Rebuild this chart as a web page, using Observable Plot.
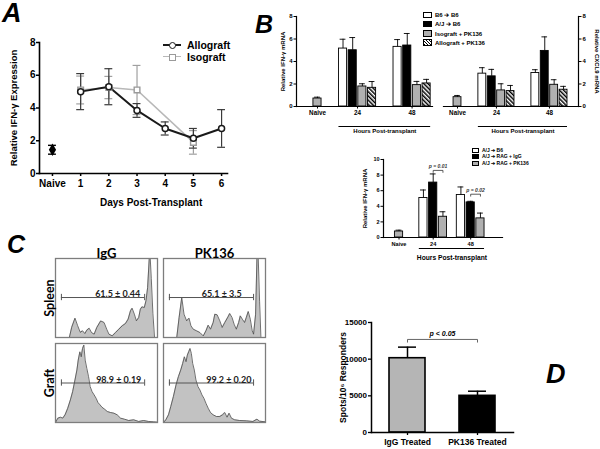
<!DOCTYPE html>
<html>
<head>
<meta charset="utf-8">
<script src="https://cdn.jsdelivr.net/npm/d3@7"></script>
<script src="https://cdn.jsdelivr.net/npm/@observablehq/plot@0.6"></script>
<style>
  html,body{margin:0;padding:0;background:#fff;}
  #root{position:relative;width:600px;height:449px;overflow:hidden;background:#fff;font-family:"Liberation Sans",Arial,sans-serif;color:#000;}
  .letter{position:absolute;font-family:"Liberation Sans",Arial,sans-serif;font-weight:bold;font-style:italic;line-height:1;}
  .lgrow{position:absolute;display:flex;align-items:center;white-space:nowrap;font-weight:bold;line-height:1;}
  .sw{box-sizing:border-box;border:1px solid #000;display:inline-block;flex:none;}
</style>
</head>
<body>
<svg width="0" height="0" style="position:absolute">
  <defs>
    <pattern id="hatch" patternUnits="userSpaceOnUse" width="3" height="3" patternTransform="rotate(-45)">
      <rect width="3" height="3" fill="#fff"></rect>
      <rect width="1.5" height="3" fill="#000"></rect>
    </pattern>
  </defs>
</svg>
<div id="root"></div>
<script>
// ================= DATA =================
// Panel A : relative IFN-gamma expression by day
const aDays = [1, 2, 3, 4, 5, 6];
const aAlloMean = [5.0, 5.3, 3.85, 2.75, 2.15, 2.75];
const aAlloErr  = [1.1, 1.1, 0.42, 0.4, 0.6, 1.15];
const aIsoDays = [1, 2, 3, 5];
const aIsoMean = [5.1, 5.25, 5.1, 1.9];
const aIsoErr  = [0.85, 0.68, 1.5, 0.72];
const aNaiveMean = 1.45;
const aNaiveErr = 0.27;
const aSeries = ["Allograft", "Isograft"];

// Panel B (top) : IFN-gamma and CXCL9 mRNA
const bGroupNames = ["Naive", "24", "48"];
const bSeries = ["B6 ➔ B6", "A/J ➔ B6", "Isograft + PK136", "Allograft + PK136"];
const bIfnNaive = 0.71, bIfnNaiveErr = 0.12;
const bIfn24 = [5.15, 5.0, 1.78, 1.66];
const bIfn24Err = [0.83, 1.13, 0.24, 0.56];
const bIfn48 = [5.3, 5.42, 1.9, 2.05];
const bIfn48Err = [0.65, 1.07, 0.33, 0.36];
const bCxNaive = 0.83, bCxNaiveErr = 0.15;
const bCx24 = [2.92, 2.68, 1.43, 1.37];
const bCx24Err = [0.53, 0.62, 0.59, 0.5];
const bCx48 = [2.98, 4.94, 1.93, 1.49];
const bCx48Err = [0.29, 1.25, 0.45, 0.3];

// Panel B (bottom) : RAG recipients
const rSeries = ["A/J ➔ B6", "A/J ➔ RAG + IgG", "A/J ➔ RAG + PK136"];
const rNaive = 0.77, rNaiveErr = 0.17;
const r24 = [5.06, 7.04, 2.66];
const r24Err = [1.03, 1.11, 0.64];
const r48 = [5.45, 4.5, 2.45];
const r48Err = [1.03, 0.14, 0.68];
const rPvals = [
  {group: "24", from: "A/J ➔ RAG + IgG", to: "A/J ➔ RAG + PK136", y: 8.6, label: "p = 0.01"},
  {group: "48", from: "A/J ➔ RAG + IgG", to: "A/J ➔ RAG + PK136", y: 5.55, label: "p = 0.02"}
];

// Panel C : flow histograms (channel 0-100, normalized count)
const cTreat = ["IgG", "PK136"];
const cTissue = ["Spleen", "Graft"];
const hSpleenIgG = [[0,0],[13.6,0],[15.9,0.13],[19.1,0.245],[21.7,0.15],[24.3,0.065],[26.5,0.085],[28.8,0.05],[30.7,0.093],[33,0.118],[35.3,0.063],[37.9,0.042],[40.5,0.127],[44.3,0.21],[47.6,0.19],[50.2,0.105],[52.4,0.042],[55.7,0.021],[58.9,0.063],[62.1,0.105],[65.4,0.148],[68.6,0.177],[71.2,0.232],[73.5,0.338],[75.1,0.371],[77.3,0.295],[79.3,0.211],[81.6,0.253],[83.2,0.359],[84.8,0.388],[87.1,0.38],[88.7,0.464],[90.3,0.63],[91.9,1.0],[92.9,1.0],[93.9,0.75],[95.5,0.3],[97.1,0],[100,0]];
const hSpleenPK = [[0,0],[13,0],[15.3,0.253],[17.9,0.506],[20.1,0.295],[22.7,0.211],[25,0.245],[26.9,0.148],[29.2,0.105],[32.5,0.084],[35.7,0.063],[39,0.02],[41.6,0.084],[43.8,0.156],[46.1,0.105],[48.7,0.19],[50.3,0.295],[52.6,0.287],[55.2,0.211],[57.5,0.127],[60.1,0.19],[63.3,0.262],[64.9,0.304],[67.2,0.253],[69.2,0.169],[71.4,0.105],[73.7,0.19],[75.3,0.274],[77.3,0.232],[79.5,0.19],[81.2,0.253],[83.1,0.329],[85.1,0.232],[87,0.084],[88.3,0.042],[90.3,0.295],[91.6,1.0],[92.9,1.0],[94.2,0.46],[95.5,0],[100,0]];
const hGraftIgG = [[0,0],[2.3,0.055],[4.9,0.067],[7.1,0.055],[9.4,0.097],[12,0.18],[14.6,0.286],[16.8,0.39],[19.1,0.538],[21,0.664],[22.3,0.79],[23.9,0.895],[25.2,0.832],[26.5,0.937],[27.8,0.98],[29.1,0.79],[30.7,0.685],[32.4,0.58],[34,0.454],[35.9,0.39],[37.9,0.349],[39.8,0.307],[41.7,0.252],[43.7,0.223],[45.6,0.193],[48.2,0.168],[50.8,0.139],[54,0.126],[57.3,0.118],[60.5,0.097],[63.8,0.055],[67.6,0.042],[71.8,0.025],[76.7,0.034],[81.6,0.013],[86.4,0.025],[91.3,0.013],[96.1,0.008],[100,0.004]];
const hGraftPK = [[0,0],[2.3,0.034],[4.9,0.097],[7.1,0.2],[9.7,0.328],[12.3,0.475],[14.6,0.58],[16.9,0.664],[18.8,0.748],[20.5,0.832],[22.1,0.77],[23.4,0.853],[24.7,0.895],[26,0.937],[27.3,0.874],[28.6,0.748],[30.2,0.664],[31.8,0.538],[33.8,0.454],[35.7,0.412],[37.7,0.349],[39.6,0.307],[41.6,0.244],[43.8,0.181],[46.1,0.126],[48.7,0.097],[51.9,0.076],[55.2,0.076],[57.8,0.097],[60.1,0.126],[62.3,0.067],[64.3,0.118],[66.6,0.055],[69.8,0.034],[74.7,0.025],[81.2,0.021],[87.7,0.013],[91.6,0.042],[94.2,0.017],[100,0.008]];
const cGates = [
  {treat: "IgG",   tissue: "Spleen", x1: 5.8, x2: 87.4, h: 0.506, tx: 61, label: "61.5 ± 0.44"},
  {treat: "PK136", tissue: "Spleen", x1: 5.8, x2: 88.3, h: 0.506, tx: 57, label: "65.1 ± 3.5"},
  {treat: "IgG",   tissue: "Graft",  x1: 5.8, x2: 87.4, h: 0.5,   tx: 62, label: "98.9 ± 0.19"},
  {treat: "PK136", tissue: "Graft",  x1: 5.8, x2: 88.3, h: 0.5,   tx: 64, label: "99.2 ± 0.20"}
];

// Panel D : ELISPOT
const dGroups = ["IgG Treated", "PK136 Treated"];
const dMean = [10130, 5000];
const dErr = [1510, 630];
const dP = {y: 12690, yEnd: 12320, label: "p < 0.05"};

// ================= HELPERS =================
const root = document.getElementById("root");
const SANS = "Liberation Sans, Arial, sans-serif";
function put(node, left, top) {
  node.style.position = "absolute";
  node.style.left = left + "px";
  node.style.top = top + "px";
  root.appendChild(node);
}
function letter(t, left, top, size) {
  const d = document.createElement("div");
  d.className = "letter"; d.textContent = t; d.style.fontSize = size + "px";
  put(d, left, top);
}
function swatchLegend(items, left, centers, boxW, boxH, gap, font) {
  items.forEach((it, i) => {
    const row = document.createElement("div");
    row.className = "lgrow";
    row.style.fontSize = font + "px";
    row.style.height = boxH + "px";
    const sw = document.createElement("span");
    sw.className = "sw";
    sw.style.width = boxW + "px"; sw.style.height = boxH + "px";
    sw.style.background = it.css; sw.style.marginRight = gap + "px";
    row.appendChild(sw);
    row.appendChild(document.createTextNode(it.label));
    put(row, left, centers[i] - boxH / 2);
  });
}
function layout(groups, gaps) {
  const bars = [], centers = [];
  let pos = 0;
  groups.forEach((g, gi) => {
    if (gi > 0) pos += gaps[gi - 1];
    const first = pos;
    g.items.forEach((it, i) => { if (i > 0) pos += 1; bars.push({...it, group: g.name, x: pos}); });
    centers.push({group: g.name, x: (first + pos) / 2, first, last: pos});
  });
  return {bars, centers};
}
function makeGroups(series, naive, naiveErr, v24, e24, v48, e48) {
  return [
    {name: bGroupNames[0], items: [{series: "Naive", v: naive, e: naiveErr}]},
    {name: bGroupNames[1], items: series.map((s, i) => ({series: s, v: v24[i], e: e24[i]}))},
    {name: bGroupNames[2], items: series.map((s, i) => ({series: s, v: v48[i], e: e48[i]}))}
  ];
}
const GRAY = "#b0b0b0";
const bFill = {"Naive": GRAY, [bSeries[0]]: "#fff", [bSeries[1]]: "#000", [bSeries[2]]: GRAY, [bSeries[3]]: "url(#hatch)"};
const rFill = {"Naive": GRAY, [rSeries[0]]: "#fff", [rSeries[1]]: "#000", [rSeries[2]]: GRAY};

function groupedChart(o) {
  const {bars, centers} = o.lay;
  const hw = 0.42, capHw = 0.3;
  const lab = new Map(centers.map(c => [c.x, c.group]));
  const hours = centers.filter(c => c.group !== bGroupNames[0]);
  const under = {a: hours[0].first - hw, b: hours[hours.length - 1].last + hw, label: "Hours Post-transplant"};
  return Plot.plot({
    width: o.w, height: o.h, marginLeft: o.ml, marginRight: o.mr, marginTop: o.mt, marginBottom: o.mb,
    style: {background: "transparent", fontFamily: SANS, fontWeight: "bold", overflow: "visible", color: "#000"},
    x: {domain: o.xDomain}, y: {domain: [0, o.yMax]},
    marks: [
      Plot.rect(bars, {x1: d => d.x - hw, x2: d => d.x + hw, y1: () => 0, y2: "v", fill: d => o.fill[d.series], stroke: "#000", strokeWidth: 0.9}),
      Plot.ruleX(bars, {x: "x", y1: "v", y2: d => d.v + d.e, strokeWidth: 0.9}),
      Plot.ruleY(bars, {y: d => d.v + d.e, x1: d => d.x - capHw, x2: d => d.x + capHw, strokeWidth: 0.9}),
      Plot.frame({anchor: "bottom", strokeWidth: 1.2}),
      Plot.frame({anchor: o.right ? "right" : "left", strokeWidth: 1.2}),
      Plot.axisY({anchor: o.right ? "right" : "left", ticks: o.yTicks, tickSize: 2.5, tickPadding: 1.5, fontSize: o.tickFont, fontWeight: "bold", label: null}),
      Plot.axisX({ticks: centers.map(c => c.x), tickFormat: x => lab.get(x), tickSize: 2.5, tickPadding: 2, fontSize: o.xTickFont, fontWeight: "bold", label: null}),
      Plot.ruleY([under], {y: () => 0, x1: "a", x2: "b", dy: o.ulDy, strokeWidth: 1}),
      Plot.text([under], {x: d => (d.a + d.b) / 2, y: () => 0, text: "label", dy: o.hoursDy, fontSize: o.hoursFont, fontWeight: "bold"}),
      Plot.text([o.yTitle], {frameAnchor: o.right ? "right" : "left", textAnchor: "middle", rotate: o.right ? 90 : -90, dx: o.titleDx, fontSize: o.titleFont, fontWeight: "bold"}),
      ...(o.extra ? o.extra(bars) : [])
    ]
  });
}

// ================= PANEL A =================
{
  const allo = aDays.map((d, i) => ({x: d, v: aAlloMean[i], e: aAlloErr[i]}));
  const iso = aIsoDays.map((d, i) => ({x: d, v: aIsoMean[i], e: aIsoErr[i]}));
  const naive = [{x: 0, v: aNaiveMean, e: aNaiveErr}];
  const xDomain = [-0.46, 6.21];
  const cap = 0.14;
  const eb = (data, color, sw) => [
    Plot.ruleX(data, {x: "x", y1: d => d.v - d.e, y2: d => d.v + d.e, stroke: color, strokeWidth: sw}),
    Plot.ruleY(data, {y: d => d.v + d.e, x1: d => d.x - cap, x2: d => d.x + cap, stroke: color, strokeWidth: sw}),
    Plot.ruleY(data, {y: d => d.v - d.e, x1: d => d.x - cap, x2: d => d.x + cap, stroke: color, strokeWidth: sw})
  ];
  const p = Plot.plot({
    width: 250, height: 215, marginLeft: 39, marginRight: 23, marginTop: 42, marginBottom: 42,
    style: {background: "transparent", fontFamily: SANS, fontWeight: "bold", overflow: "visible", color: "#000"},
    x: {domain: xDomain}, y: {domain: [0, 8]},
    marks: [
      Plot.frame({anchor: "left", strokeWidth: 1.6}),
      Plot.frame({anchor: "bottom", strokeWidth: 1.6}),
      Plot.axisY({ticks: [0, 2, 4, 6, 8], tickSize: 3, tickPadding: 1, fontSize: 10, fontWeight: "bold", strokeWidth: 1.5, label: null}),
      Plot.axisX({ticks: [0, ...aDays], tickFormat: d => d === 0 ? bGroupNames[0] : String(d), tickSize: 3, tickPadding: 3, fontSize: 10, fontWeight: "bold", strokeWidth: 1.5, label: null}),
      ...eb(iso, "#a0a0a0", 1.2),
      ...eb(allo, "#3a3a3a", 1.2),
      ...eb(naive, "#000", 1.4),
      Plot.line(iso, {x: "x", y: "v", stroke: "#b8b8b8", strokeWidth: 1.6}),
      Plot.line(allo, {x: "x", y: "v", stroke: "#1a1a1a", strokeWidth: 2}),
      Plot.dot(iso, {x: "x", y: "v", symbol: "square", r: 3.2, fill: "#fff", stroke: "#9a9a9a", strokeWidth: 1.4}),
      Plot.dot(allo, {x: "x", y: "v", r: 3, fill: "#fff", stroke: "#1a1a1a", strokeWidth: 1.5}),
      Plot.dot(naive, {x: "x", y: "v", symbol: "diamond", r: 3.8, fill: "#000"}),
      Plot.text(["Relative IFN-γ Expression"], {frameAnchor: "left", textAnchor: "middle", rotate: -90, dx: -26, fontSize: 9.5, fontWeight: "bold"}),
      Plot.text(["Days Post-Transplant"], {x: () => d3.mean(aDays), y: () => 0, dy: 29, fontSize: 10, fontWeight: "bold"})
    ]
  });
  put(p, 0, 0);

  // legend A
  const rows = [
    {label: aSeries[0], color: "#1a1a1a", shape: "circle", cy: 45},
    {label: aSeries[1], color: "#b8b8b8", mcolor: "#9a9a9a", shape: "square", cy: 57}
  ];
  rows.forEach(r => {
    const row = document.createElement("div");
    row.className = "lgrow"; row.style.fontSize = "10.5px"; row.style.height = "10px";
    const key = document.createElement("span");
    key.style.cssText = "position:relative;display:inline-block;width:18px;height:10px;margin-right:6px;";
    const ln = document.createElement("span");
    ln.style.cssText = `position:absolute;left:0;top:4px;width:18px;height:0;border-top:${r.shape === "circle" ? 2 : 1.6}px solid ${r.color};`;
    const mk = document.createElement("span");
    mk.style.cssText = `position:absolute;left:5.5px;top:1.5px;width:7px;height:7px;box-sizing:border-box;background:#fff;border:1.5px solid ${r.mcolor || r.color};${r.shape === "circle" ? "border-radius:50%;" : ""}`;
    key.appendChild(ln); key.appendChild(mk);
    row.appendChild(key); row.appendChild(document.createTextNode(r.label));
    put(row, 163, r.cy - 5);
  });
}

// ================= PANEL B (top) =================
{
  const layIfn = layout(makeGroups(bSeries, bIfnNaive, bIfnNaiveErr, bIfn24, bIfn24Err, bIfn48, bIfn48Err), [2.64, 2.64]);
  const pL = groupedChart({
    lay: layIfn, fill: bFill, w: 190, h: 140, ml: 46, mr: 8, mt: 16, mb: 34,
    xDomain: [-2.17, 11.89], yMax: 8, yTicks: [0, 2, 4, 6, 8], right: false,
    tickFont: 6, xTickFont: 6.3, ulDy: 20, hoursDy: 25, hoursFont: 6, titleFont: 6, titleDx: -13,
    yTitle: "Relative IFN-γ mRNA"
  });
  put(pL, 250, 0);
  const layCx = layout(makeGroups(bSeries, bCxNaive, bCxNaiveErr, bCx24, bCx24Err, bCx48, bCx48Err), [2.64, 2.64]);
  const pR = groupedChart({
    lay: layCx, fill: bFill, w: 170, h: 140, ml: 13, mr: 22, mt: 16, mb: 34,
    xDomain: [-1.49, 12.87], yMax: 8, yTicks: [0, 2, 4, 6, 8], right: true,
    tickFont: 6, xTickFont: 6.3, ulDy: 20, hoursDy: 25, hoursFont: 6, titleFont: 6, titleDx: 18,
    yTitle: "Relative CXCL9 mRNA"
  });
  put(pR, 430, 0);
  swatchLegend(bSeries.map(s => ({label: s, css: s === bSeries[3] ? "repeating-linear-gradient(45deg,#000 0 1px,#fff 1px 2.2px)" : bFill[s]})),
    423, [15, 24, 33.5, 42.5], 9, 6.5, 3, 6);
}

// ================= PANEL B (bottom) =================
{
  const lay = layout(makeGroups(rSeries, rNaive, rNaiveErr, r24, r24Err, r48, r48Err), [2.5, 1.84]);
  const p = groupedChart({
    lay, fill: rFill, w: 200, h: 130, ml: 53, mr: 28, mt: 19, mb: 33,
    xDomain: [-1.59, 10.6], yMax: 10, yTicks: [0, 2, 4, 6, 8, 10], right: false,
    tickFont: 5.5, xTickFont: 5.6, ulDy: 11, hoursDy: 20, hoursFont: 6.7, titleFont: 6, titleDx: -18,
    yTitle: "Relative IFN-γ mRNA",
    extra: bars => {
      const br = rPvals.map(pv => {
        const a = bars.find(b => b.group === pv.group && b.series === pv.from).x;
        const b = bars.find(b => b.group === pv.group && b.series === pv.to).x;
        return {...pv, a, b};
      });
      const pts = br.flatMap((d, i) => [
        {k: i, x: d.a, y: d.y - 0.25}, {k: i, x: d.a, y: d.y}, {k: i, x: d.b, y: d.y}, {k: i, x: d.b, y: d.y - 0.25}
      ]);
      return [
        Plot.line(pts, {x: "x", y: "y", z: "k", stroke: "#333", strokeWidth: 0.8}),
        Plot.text(br, {x: d => (d.a + d.b) / 2, y: "y", text: "label", dy: -4, fontSize: 5, fontStyle: "italic", fontWeight: "bold", fill: "#333"})
      ];
    }
  });
  put(p, 330, 140);
  swatchLegend(rSeries.map(s => ({label: s, css: rFill[s]})), 472, [150, 156.5, 163], 7, 5, 3, 5);
}

// ================= PANEL C =================
{
  const hists = [
    {treat: cTreat[0], tissue: cTissue[0], pts: hSpleenIgG},
    {treat: cTreat[1], tissue: cTissue[0], pts: hSpleenPK},
    {treat: cTreat[0], tissue: cTissue[1], pts: hGraftIgG},
    {treat: cTreat[1], tissue: cTissue[1], pts: hGraftPK}
  ];
  const rows = hists.flatMap(h => h.pts.map(([x, y]) => ({treat: h.treat, tissue: h.tissue, x, y})));
  const tick = 0.04;
  const p = Plot.plot({
    width: 280, height: 190, marginLeft: 54, marginRight: 14, marginTop: 18, marginBottom: 7,
    style: {background: "transparent", fontFamily: "Lato, Open Sans, sans-serif", overflow: "visible", color: "#000"},
    fx: {domain: cTreat, paddingInner: 0.055, paddingOuter: 0, label: null},
    fy: {domain: cTissue, paddingInner: 0.07, paddingOuter: 0, label: null, axis: null},
    x: {domain: [0, 100], axis: null},
    y: {domain: [0, 1], axis: null},
    marks: [
      Plot.areaY(rows, {x: "x", y: "y", fx: "treat", fy: "tissue", fill: "#c2c2c2"}),
      Plot.line(rows, {x: "x", y: "y", fx: "treat", fy: "tissue", stroke: "#4a4a4a", strokeWidth: 0.8}),
      Plot.frame({stroke: "#7d7d7d", strokeWidth: 1.3}),
      Plot.ruleY(cGates, {y: "h", x1: "x1", x2: "x2", fx: "treat", fy: "tissue", stroke: "#555", strokeWidth: 1}),
      Plot.ruleX(cGates, {x: "x1", y1: d => d.h - tick, y2: d => d.h + tick, fx: "treat", fy: "tissue", stroke: "#555", strokeWidth: 1}),
      Plot.ruleX(cGates, {x: "x2", y1: d => d.h - tick, y2: d => d.h + tick, fx: "treat", fy: "tissue", stroke: "#555", strokeWidth: 1}),
      Plot.text(cGates, {x: "tx", y: "h", text: "label", fx: "treat", fy: "tissue", lineAnchor: "bottom", dy: -0.5, fontSize: 9, fontWeight: "bold", fill: "#222"}),
      Plot.axisFx({anchor: "top", tickSize: 0, tickPadding: 1, fontSize: 13, fontWeight: "bold", label: null}),
      Plot.text(cTissue, {fy: d => d, fx: () => cTreat[0], text: d => d, frameAnchor: "left", textAnchor: "middle", rotate: -90, dx: -5.5, fontSize: 12.5, fontWeight: "bold"})
    ]
  });
  put(p, 0, 240);
}

// ================= PANEL D =================
{
  const data = dGroups.map((g, i) => ({g, v: dMean[i], e: dErr[i]}));
  const br = [
    {x: dGroups[0], y: dP.yEnd}, {x: dGroups[0], y: dP.y}, {x: dGroups[1], y: dP.y}, {x: dGroups[1], y: dP.yEnd}
  ];
  const p = Plot.plot({
    width: 200, height: 149, marginLeft: 41, marginRight: 17, marginTop: 22, marginBottom: 17,
    style: {background: "transparent", fontFamily: SANS, fontWeight: "bold", overflow: "visible", color: "#000"},
    x: {domain: dGroups, paddingInner: 0.486, paddingOuter: 0.257},
    y: {domain: [0, 15000]},
    marks: [
      Plot.barY(data, {x: "g", y: "v", fill: d => d.g === dGroups[0] ? "#b5b5b5" : "#000", stroke: "#000", strokeWidth: 1.6}),
      Plot.ruleX(data, {x: "g", y1: "v", y2: d => d.v + d.e, strokeWidth: 1.5}),
      Plot.tickY(data, {x: "g", y: d => d.v + d.e, insetLeft: 9, insetRight: 9, strokeWidth: 1.5}),
      Plot.frame({anchor: "left", strokeWidth: 1.5}),
      Plot.frame({anchor: "bottom", strokeWidth: 1.5}),
      Plot.axisY({ticks: [0, 5000, 10000, 15000], tickFormat: d => String(d), tickSize: 3, tickPadding: 1.5, fontSize: 8, fontWeight: "bold", strokeWidth: 1.3, label: null}),
      Plot.axisX({tickSize: 3, tickPadding: 3, fontSize: 8.5, fontWeight: "bold", strokeWidth: 1.3, label: null}),
      Plot.line(br, {x: "x", y: "y", stroke: "#555", strokeWidth: 0.9}),
      Plot.text([dP], {y: "y", text: "label", dy: -6, fontSize: 7, fontStyle: "italic", fontWeight: "bold"}),
      Plot.text(["Spots/10⁶ Responders"], {frameAnchor: "left", textAnchor: "middle", rotate: -90, dx: -28, fontSize: 8.5, fontWeight: "bold"})
    ]
  });
  put(p, 330, 300);
}

// ================= PANEL LETTERS =================
letter("A", 2, 0, 27);
letter("B", 255, 12, 25);
letter("C", 7, 232, 25);
letter("D", 546, 361, 27);
</script>
</body>
</html>
